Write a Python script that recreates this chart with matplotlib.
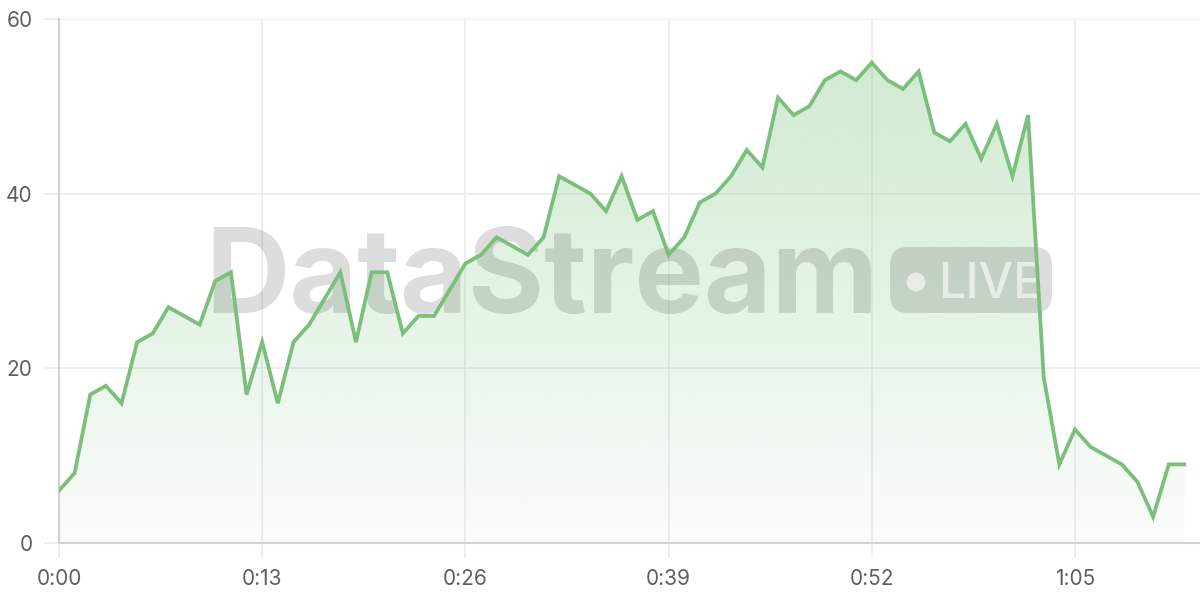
import numpy as np
import matplotlib
matplotlib.use("Agg")
import matplotlib.pyplot as plt
from matplotlib.patches import Polygon, FancyBboxPatch, Circle

# seconds since start and the streamed value
seconds = list(range(73))
values = [6, 8, 17, 18, 16, 23, 24, 27, 26, 25,
          30, 31, 17, 23, 16, 23, 25, 28, 31, 23,
          31, 31, 24, 26, 26, 29, 32, 33, 35, 34,
          33, 35, 42, 41, 40, 38, 42, 37, 38, 33,
          35, 39, 40, 42, 45, 43, 51, 49, 50, 53,
          54, 53, 55, 53, 52, 54, 47, 46, 48, 44,
          48, 42, 49, 19, 9, 13, 11, 10, 9, 7,
          3, 9, 9]
x_ticks = [0, 13, 26, 39, 52, 65]
y_ticks = [0, 20, 40, 60]

line_color = "#7abf7a"
grid_color = "#ebebeb"
axis_color = "#d2d2d2"
label_color = "#5f5f5f"

plt.rcParams['font.family'] = ['Inter', 'DejaVu Sans']

fig = plt.figure(figsize=(12, 6), dpi=100)
ax = fig.add_axes([59 / 1200, 57 / 600, 1141 / 1200, 524 / 600])
ax.set_xlim(0, 73)
ax.set_ylim(0, 60)

# gradient fill under the line
rgb = matplotlib.colors.to_rgb("#81c784")
alpha = np.linspace(0.04, 0.40, 256)
img = np.zeros((256, 1, 4))
img[:, 0, :3] = rgb
img[:, 0, 3] = alpha
im = ax.imshow(img, extent=[0, seconds[-1], 0, 60], origin="lower",
               aspect="auto", zorder=1, interpolation="bilinear")
verts = [(seconds[0], 0)] + list(zip(seconds, values)) + [(seconds[-1], 0)]
clip = Polygon(verts, closed=True, facecolor="none", edgecolor="none")
ax.add_patch(clip)
im.set_clip_path(clip)

ax.plot(seconds, values, color=line_color, linewidth=2.7, zorder=4,
        solid_joinstyle="miter")

# watermark
wm = fig.dpi_scale_trans
ax.text(2.05, 2.87, "DataStream", transform=wm, fontsize=84, fontweight="bold",
        color="black", alpha=0.135, ha="left", va="baseline", zorder=3)
pill = FancyBboxPatch((8.90, 2.87), 1.62, 0.66,
                      boxstyle="round,pad=0,rounding_size=0.18",
                      transform=wm, facecolor="black", alpha=0.135,
                      edgecolor="none", zorder=3)
ax.add_patch(pill)
ax.add_patch(Circle((9.16, 3.18), 0.095, transform=wm, facecolor="white",
                    alpha=0.6, edgecolor="none", zorder=3))
ax.text(9.38, 3.02, "LIVE", transform=wm, fontsize=35, fontweight="medium",
        color="white", alpha=0.6, ha="left", va="baseline", zorder=3)

# axes styling
ax.set_xticks(x_ticks)
ax.set_xticklabels([f"{t // 60}:{t % 60:02d}" for t in x_ticks])
ax.set_yticks(y_ticks)
ax.grid(True, color=grid_color, linewidth=1.2, zorder=0)
ax.set_axisbelow(True)
for side in ["top", "right"]:
    ax.spines[side].set_visible(False)
for side in ["left", "bottom"]:
    ax.spines[side].set_color(axis_color)
    ax.spines[side].set_linewidth(1.5)
ax.tick_params(axis="both", colors=grid_color, length=11, width=1.2,
               labelcolor=label_color, labelsize=15)
ax.tick_params(axis="x", pad=8)
ax.tick_params(axis="y", pad=8)

fig.savefig("out.png", dpi=100)
